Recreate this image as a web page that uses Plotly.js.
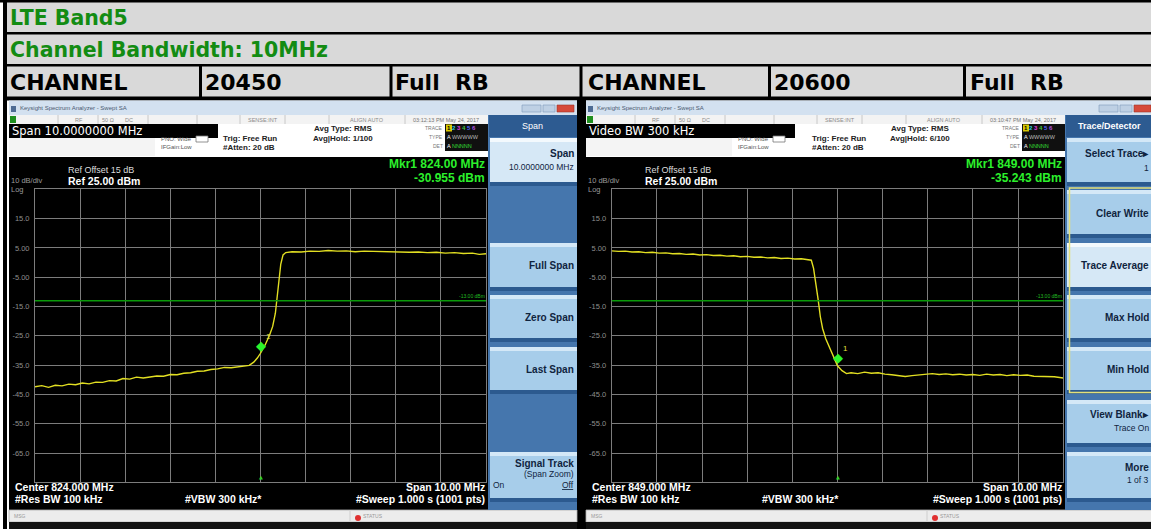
<!DOCTYPE html>
<html><head><meta charset="utf-8">
<script src="https://cdn.plot.ly/plotly-3.0.1.min.js"></script>
<style>html,body{margin:0;padding:0;background:#fff;overflow:hidden}#chart{width:1151px;height:529px}</style>
</head><body><div id="chart"></div>
<script>
// ================= DATA =================
const headerBand = 'LTE Band5';
const headerBW = 'Channel Bandwidth: 10MHz';
const channelLabel = 'CHANNEL';
const channelNumbers = ['20450', '20600'];
const rbLabel = 'Full\u00a0 RB';

const centerMHz = [824, 849];
const spanMHz = [10, 10];
const refLevelDbm = 25;
const dbPerDiv = 10;
const numDiv = 10;
const displayLineDbm = -13;
const yTickVals = [15, 5, -5, -15, -25, -35, -45, -55, -65];
const yTickText = ['15.0', '5.00', '-5.00', '-15.0', '-25.0', '-35.0', '-45.0', '-55.0', '-65.0'];

const markerFreqMHz = [824.00, 849.00];
const markerLevelDbm = [-30.955, -35.243];

const leftFreqMHz = [819.00,819.15,819.30,819.45,819.60,819.75,819.90,820.05,820.20,820.35,820.50,820.65,820.80,820.95,821.10,821.25,821.40,821.55,821.70,821.85,822.00,822.15,822.30,822.45,822.60,822.75,822.90,823.05,823.20,823.35,823.50,823.65,823.75,823.85,823.93,824.00,824.10,824.20,824.27,824.33,824.40,824.45,824.50,824.56,824.70,824.90,825.10,825.30,825.50,825.70,825.90,826.10,826.30,826.50,826.70,826.90,827.10,827.30,827.50,827.70,827.90,828.10,828.30,828.50,828.70,828.85,829.00];
const leftLevelDbm = [-42.4,-42.0,-42.6,-41.9,-42.1,-41.5,-41.7,-41.1,-41.4,-40.8,-40.9,-40.3,-40.4,-39.6,-39.8,-39.1,-39.4,-39.0,-38.7,-38.8,-38.2,-38.3,-37.8,-37.6,-37.1,-37.0,-36.5,-36.3,-35.8,-35.9,-35.6,-35.5,-35.1,-34.0,-32.6,-30.96,-28.2,-24.8,-21.8,-17.3,-8.2,-0.5,2.6,3.4,3.7,3.6,3.9,3.8,4.1,3.9,4.0,3.7,3.9,3.8,3.9,3.6,3.7,3.5,3.6,3.4,3.5,3.2,3.4,3.1,3.2,2.8,3.0];

const rightFreqMHz = [844.00,844.15,844.30,844.45,844.60,844.75,844.90,845.05,845.20,845.35,845.50,845.65,845.80,845.95,846.10,846.25,846.40,846.55,846.70,846.85,847.00,847.15,847.30,847.45,847.60,847.75,847.90,848.05,848.20,848.35,848.42,848.47,848.52,848.57,848.62,848.67,848.74,848.82,848.90,849.00,849.10,849.20,849.30,849.45,849.60,849.75,849.90,850.05,850.20,850.35,850.50,850.65,850.80,850.95,851.10,851.25,851.40,851.55,851.70,851.85,852.00,852.15,852.30,852.45,852.60,852.75,852.90,853.05,853.20,853.35,853.50,853.65,853.80,854.00];
const rightLevelDbm = [4.0,3.8,3.9,3.6,3.7,3.4,3.5,3.2,3.3,3.0,3.1,2.8,2.9,2.6,2.7,2.4,2.5,2.2,2.3,2.0,2.1,1.8,1.9,1.6,1.7,1.4,1.5,1.2,1.3,1.1,0.8,-2.0,-6.5,-12.5,-18.5,-22.5,-26.0,-29.0,-31.6,-35.24,-36.9,-37.9,-37.6,-37.9,-37.4,-37.8,-37.6,-38.1,-38.3,-38.7,-38.9,-38.6,-38.3,-38.0,-37.9,-38.2,-38.0,-38.3,-38.1,-38.4,-38.2,-38.5,-38.1,-38.4,-38.2,-38.6,-38.3,-38.5,-38.4,-38.8,-38.9,-39.1,-39.0,-39.4];

const topBoxText = ['Span 10.0000000 MHz', 'Video BW 300 kHz'];
const avgHoldText = ['Avg|Hold: 1/100', 'Avg|Hold: 6/100'];
const timeText = ['03:12:13 PM May 24, 2017', '03:10:47 PM May 24, 2017'];
const menuTitle = ['Span', 'Trace/Detector'];

// ================= LAYOUT HELPERS =================
const W = 1151, H = 529;
const SANS = 'Liberation Sans, Arial, sans-serif';
const DJ = 'DejaVu Sans, sans-serif';
const shapes = [];
const annotations = [];

function rect(x0, y0, x1, y1, fill, lw, lc, layer) {
  shapes.push({type: 'rect', xref: 'paper', yref: 'paper', x0: x0 / W, x1: x1 / W, y0: 1 - y1 / H, y1: 1 - y0 / H,
    fillcolor: fill, line: {width: lw || 0, color: lc || 'rgba(0,0,0,0)'}, layer: layer || 'below'});
}
function vline(x, y0, y1, color, w) {
  shapes.push({type: 'line', xref: 'paper', yref: 'paper', x0: x / W, x1: x / W, y0: 1 - y1 / H, y1: 1 - y0 / H,
    line: {color: color, width: w || 1}, layer: 'below'});
}
function txt(x, y, text, o) {
  o = o || {};
  annotations.push({xref: 'paper', yref: 'paper', x: x / W, y: 1 - y / H, text: text, showarrow: false,
    xanchor: o.a || 'left', yanchor: 'middle', align: o.a || 'left', borderpad: 0,
    font: {family: o.f || SANS, size: o.s || 8, color: o.c || '#000', weight: o.b ? 700 : 400}});
}

// ================= TABLE HEADER =================
rect(3, 0, W, 98, '#d9d9d9');
rect(0, 0, W, 2.5, '#000');
rect(3, 0, 7, 529, '#000');
rect(3, 32, W, 34.5, '#000');
rect(3, 64, W, 66.5, '#000');
rect(3, 96.5, W, 100.5, '#000');
[199, 389.5, 579.5, 768, 963].forEach(x => rect(x, 65, x + 3, 98, '#000'));
const hdrGreen = '#138c13';
txt(9, 18, headerBand, {f: DJ, s: 20.5, c: hdrGreen, b: 1});
txt(9, 49.5, headerBW, {f: DJ, s: 20.5, c: hdrGreen, b: 1});
txt(9, 82, channelLabel, {f: DJ, s: 22, b: 1});
txt(204, 82, channelNumbers[0], {f: DJ, s: 22, b: 1});
txt(394, 82, rbLabel, {f: DJ, s: 22, b: 1});
txt(587, 82, channelLabel, {f: DJ, s: 22, b: 1});
txt(773, 82, channelNumbers[1], {f: DJ, s: 22, b: 1});
txt(969, 82, rbLabel, {f: DJ, s: 22, b: 1});

// divider between screenshots
rect(577, 100, 586, 529, '#000');

// ================= SCREENSHOT CHROME =================
const leftKeys = [
  {y: [138, 182], sel: true, lines: [['Span', 153, 10, 1], ['10.0000000 MHz', 167, 8.5, 0]]},
  {y: [243, 287], lines: [['Full Span', 265, 10, 1]]},
  {y: [295, 338], lines: [['Zero Span', 317, 10, 1]]},
  {y: [347, 390], lines: [['Last Span', 369, 10, 1]]},
  {y: [452, 498], lines: [['Signal Track', 463, 10, 1], ['(Span Zoom)', 474, 8.5, 0], ['<u>Off</u>', 485, 8.5, 0]], on: true}
];
const rightKeys = [
  {y: [138, 182], lines: [['Select Trace\u25B8', 153, 10, 1], ['1', 168, 8.5, 0]]},
  {y: [190, 234], lines: [['Clear Write', 213, 10, 1]]},
  {y: [243, 287], sel: true, lines: [['Trace Average', 265, 10, 1]]},
  {y: [295, 338], lines: [['Max Hold', 317, 10, 1]]},
  {y: [347, 390], lines: [['Min Hold', 369, 10, 1]]},
  {y: [400, 443], lines: [['View Blank\u25B8', 414, 10, 1], ['Trace On', 428, 8.5, 0]]},
  {y: [452, 498], lines: [['More', 467, 10, 1], ['1 of 3', 480, 8.5, 0]]}
];

function screen(i, dx, keys, textRight) {
  // title bar
  rect(9 + dx, 100.5, 577 + dx, 115, '#d3e1f0');
  rect(11 + dx, 106, 16 + dx, 112, '#4d6b93');
  txt(19 + dx, 108.5, 'Keysight Spectrum Analyzer - Swept SA', {s: 6, c: '#4a5a70'});
  rect(522 + dx, 105, 541 + dx, 112, '#bed0e4', 0.6, '#7d98b8');
  rect(543 + dx, 105, 555 + dx, 112, '#bed0e4', 0.6, '#7d98b8');
  rect(557 + dx, 105, 574 + dx, 112, '#d64a3b', 0.6, '#9b3328');
  // status row
  rect(9 + dx, 115, 488 + dx, 124, '#f3f3f3');
  [58, 98, 148, 197, 240, 285, 329, 405].forEach(x => vline(x + dx, 115, 124, '#bdbdbd', 0.8));
  rect(10 + dx, 116, 16 + dx, 123, '#1f8f1f');
  txt(79 + dx, 119.5, 'RF', {s: 5.5, c: '#8c8c8c', a: 'center'});
  txt(108 + dx, 119.5, '50 \u03A9', {s: 5.5, c: '#8c8c8c', a: 'center'});
  txt(129 + dx, 119.5, 'DC', {s: 5.5, c: '#8c8c8c', a: 'center'});
  txt(263 + dx, 119.5, 'SENSE:INT', {s: 5.5, c: '#8c8c8c', a: 'center'});
  txt(367 + dx, 119.5, 'ALIGN AUTO', {s: 5.5, c: '#8c8c8c', a: 'center'});
  txt(446 + dx, 119.5, timeText[i], {s: 5.5, c: '#777', a: 'center'});
  // info area
  rect(9 + dx, 124, 488 + dx, 157, '#ffffff');
  rect(9 + dx, 138, 155 + dx, 156, '#f4f4f4');
  rect(9 + dx, 124, 218 + dx, 138, '#000');
  txt(11 + dx, 131, topBoxText[i], {f: DJ, s: 11.5, c: '#fff'});
  txt(160 + dx, 139, 'PNO: Wide', {s: 6, c: '#555'});
  txt(160 + dx, 147, 'IFGain:Low', {s: 6, c: '#555'});
  rect(196 + dx, 136, 208 + dx, 142, '#fff', 0.8, '#777');
  const tdx = i === 1 ? 12 : 0;
  txt(222 + dx + tdx, 138, 'Trig: Free Run', {s: 8, c: '#222', b: 1});
  txt(222 + dx + tdx, 147, '#Atten: 20 dB', {s: 8, c: '#222', b: 1});
  txt(313 + dx, 128.5, 'Avg Type: RMS', {s: 8, c: '#222', b: 1});
  txt(312 + dx, 138, avgHoldText[i], {s: 8, c: '#222', b: 1});
  txt(444 + dx, 128, 'TRACE', {s: 5, c: '#777', a: 'right'});
  txt(444 + dx, 137, 'TYPE', {s: 5, c: '#777', a: 'right'});
  txt(444 + dx, 146, 'DET', {s: 5, c: '#777', a: 'right'});
  rect(445 + dx, 124, 488 + dx, 151, '#101010');
  rect(446 + dx, 124.5, 452 + dx, 131.5, '#d8c800');
  txt(446 + dx, 128, '<span style="color:#000">1</span> <span style="color:#2ad0e0">2</span> <span style="color:#e040e0">3</span> <span style="color:#40c040">4</span> <span style="color:#5a6aff">5</span> <span style="color:#b050e0">6</span>', {s: 6, b: 1});
  txt(446 + dx, 137, '<span style="color:#fff">A</span> <span style="color:#bbb">WWWWW</span>', {s: 5.5});
  txt(446 + dx, 146, '<span style="color:#fff">A</span> <span style="color:#33dd33">NNNNN</span>', {s: 5.5});
  // screen
  rect(9 + dx, 157, 488 + dx, 510, '#000');
  txt(67 + dx, 170, 'Ref Offset 15 dB', {s: 9, c: '#dcdcdc'});
  txt(67 + dx, 181, 'Ref ' + refLevelDbm.toFixed(2) + ' dBm', {s: 10.5, c: '#fff', b: 1});
  txt(10 + dx, 181, dbPerDiv + ' dB/div', {s: 7.5, c: '#9a9a9a'});
  txt(10 + dx, 189, 'Log', {s: 7.5, c: '#9a9a9a'});
  txt(486 + dx, 164, 'Mkr1 ' + markerFreqMHz[i].toFixed(2) + ' MHz', {s: 12, c: '#2cf02c', b: 1, a: 'right'});
  txt(486 + dx, 178, markerLevelDbm[i].toFixed(3) + ' dBm', {s: 12, c: '#2cf02c', b: 1, a: 'right'});
  txt(14 + dx, 487, 'Center ' + centerMHz[i].toFixed(3) + ' MHz', {s: 10.5, c: '#fff', b: 1});
  txt(14 + dx, 499, '#Res BW 100 kHz', {s: 10.5, c: '#fff', b: 1});
  txt(184 + dx, 499, '#VBW 300 kHz*', {s: 10.5, c: '#fff', b: 1});
  txt(486 + dx, 487, 'Span ' + spanMHz[i].toFixed(2) + ' MHz', {s: 10.5, c: '#fff', b: 1, a: 'right'});
  txt(486 + dx, 499, '#Sweep 1.000 s (1001 pts)', {s: 10.5, c: '#fff', b: 1, a: 'right'});
  // status bar
  rect(9 + dx, 510, 577 + dx, 522, '#ececec', 0.8, '#b0b0b0');
  txt(13 + dx, 516, 'MSG', {s: 5, c: '#999'});
  vline(350 + dx, 511, 521, '#c8c8c8', 0.8);
  shapes.push({type: 'circle', xref: 'paper', yref: 'paper', x0: (355 + dx) / W, x1: (361 + dx) / W, y0: 1 - 521 / H, y1: 1 - 515 / H, fillcolor: '#e03030', line: {width: 0}, layer: 'below'});
  txt(362 + dx, 515.5, 'STATUS', {s: 5, c: '#999'});
  rect(9 + dx, 522, 577 + dx, 529, '#111');
  // soft key panel
  rect(488 + dx, 115, 577 + dx, 510, '#4576ad');
  rect(489 + dx, 115, 577 + dx, 137, '#2d5b91');
  txt(532.5 + dx, 126.5, menuTitle[i], {s: 9, c: '#fff', b: i === 1 ? 1 : 0, a: 'center'});
  keys.forEach(k => {
    rect(490 + dx, k.y[0], 577 + dx, k.y[1], k.sel ? '#d6e8f6' : '#a7cdea');
    rect(490 + dx, k.y[0], 577 + dx, k.y[0] + 4, k.sel ? '#f3f9fd' : '#d4e8f7');
    rect(490 + dx, k.y[1], 577 + dx, k.y[1] + 4, '#2c5a8f');
    k.lines.forEach(l => txt(textRight, l[1], l[0], {s: l[2], c: '#10243e', b: l[3], a: 'right'}));
    if (k.on) txt(492 + dx, 485, 'On', {s: 8.5, c: '#10243e'});
  });
}
screen(0, 0, leftKeys, 575);
screen(1, 577, rightKeys, 1150);
// yellow group frame on the right menu
rect(1069.5, 188, 1155, 392.5, 'rgba(0,0,0,0)', 1.5, '#e4e07a', 'above');

// ================= PLOT AREAS =================
const plotTop = 189.3, plotBot = 482.3;
const plotX = [[35, 486], [611.7, 1063.3]];
const yDom = [1 - plotBot / H, 1 - plotTop / H];
const gridCol = '#7c7c7c';
function xAxis(i) {
  return {domain: [plotX[i][0] / W, plotX[i][1] / W], range: [centerMHz[i] - spanMHz[i] / 2, centerMHz[i] + spanMHz[i] / 2],
    anchor: i ? 'y2' : 'y', tick0: centerMHz[i] - spanMHz[i] / 2, dtick: spanMHz[i] / numDiv,
    showgrid: true, gridcolor: gridCol, gridwidth: 1, showline: true, mirror: true, linecolor: gridCol, linewidth: 1,
    zeroline: false, showticklabels: false, ticks: '', fixedrange: true};
}
function yAxis(i) {
  return {domain: yDom, range: [refLevelDbm - numDiv * dbPerDiv, refLevelDbm], anchor: i ? 'x2' : 'x',
    tickmode: 'array', tickvals: yTickVals, ticktext: yTickText, tickfont: {size: 7.5, color: '#8e8e8e', family: SANS},
    ticklabelstandoff: 3, showgrid: true, gridcolor: gridCol, gridwidth: 1, showline: true, mirror: true, linecolor: gridCol,
    linewidth: 1, zeroline: false, ticks: '', fixedrange: true};
}

const traceColor = '#e2df22';
const data = [
  {type: 'scatter', mode: 'lines', x: leftFreqMHz, y: leftLevelDbm, xaxis: 'x', yaxis: 'y', line: {color: traceColor, width: 1.4}, hoverinfo: 'skip'},
  {type: 'scatter', mode: 'lines', x: rightFreqMHz, y: rightLevelDbm, xaxis: 'x2', yaxis: 'y2', line: {color: traceColor, width: 1.4}, hoverinfo: 'skip'}
];

[['x', 'y'], ['x2', 'y2']].forEach((ax, i) => {
  shapes.push({type: 'line', xref: ax[0] + ' domain', yref: ax[1], x0: 0, x1: 1, y0: displayLineDbm, y1: displayLineDbm,
    line: {color: '#0a9a0a', width: 1.5}, layer: 'above'});
  annotations.push({xref: ax[0] + ' domain', yref: ax[1], x: 1, y: displayLineDbm, xanchor: 'right', yanchor: 'bottom', yshift: 1,
    text: displayLineDbm.toFixed(2) + ' dBm', showarrow: false, borderpad: 0, font: {size: 5, color: '#22bb22', family: SANS}});
  annotations.push({xref: ax[0], yref: ax[1], x: markerFreqMHz[i], y: markerLevelDbm[i], text: '\u25C6', showarrow: false,
    yshift: 8, xanchor: 'center', yanchor: 'middle', borderpad: 0, font: {size: 13, color: '#2cf52c', family: DJ}});
  annotations.push({xref: ax[0], yref: ax[1], x: markerFreqMHz[i], y: markerLevelDbm[i], text: '1', showarrow: false,
    xshift: 8, yshift: 17, borderpad: 0, font: {size: 8, color: '#e0e040', family: SANS}});
  annotations.push({xref: ax[0], yref: ax[1] + ' domain', x: markerFreqMHz[i], y: 0, text: '\u25B2', showarrow: false,
    yanchor: 'bottom', yshift: 1, borderpad: 0, font: {size: 5, color: '#2cd02c', family: DJ}});
});

const layout = {
  width: W, height: H, margin: {l: 0, r: 0, t: 0, b: 0, pad: 0},
  paper_bgcolor: '#ffffff', plot_bgcolor: '#000000', showlegend: false,
  font: {family: SANS},
  xaxis: xAxis(0), yaxis: yAxis(0), xaxis2: xAxis(1), yaxis2: yAxis(1),
  shapes: shapes, annotations: annotations
};
Plotly.newPlot('chart', data, layout, {staticPlot: true, displayModeBar: false});
</script>
</body></html>
